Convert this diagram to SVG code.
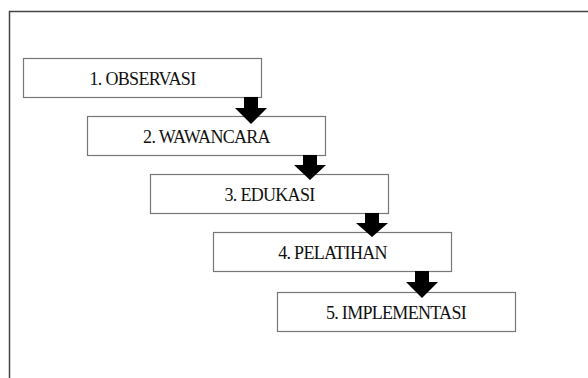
<svg xmlns="http://www.w3.org/2000/svg" width="588" height="378" viewBox="0 0 588 378">
<defs>
<style>
.box{fill:#fff;stroke:#777;stroke-width:1.2}
.lbl{font-family:"Liberation Serif","Times New Roman",serif;font-size:18px;fill:#111;text-anchor:middle;letter-spacing:-0.7px}
.arr{fill:#000}
.frame{fill:none;stroke:#444;stroke-width:1.5}
</style>
</defs>
<rect width="588" height="378" fill="#fff"/>
<path class="frame" d="M9.5,390 V11.5 H600"/>
<g id="node1"><rect class="box" x="23.5" y="58.5" width="238" height="39"/><text class="lbl" x="142.5" y="84.5">1. OBSERVASI</text></g>
<g id="node2"><rect class="box" x="87.5" y="116.5" width="238" height="39"/><text class="lbl" x="206.5" y="142.5">2. WAWANCARA</text></g>
<g id="node3"><rect class="box" x="150.5" y="174.5" width="238" height="39"/><text class="lbl" x="269.5" y="200.5">3. EDUKASI</text></g>
<g id="node4"><rect class="box" x="213.5" y="232.5" width="238" height="39"/><text class="lbl" x="332.5" y="258.5">4. PELATIHAN</text></g>
<g id="node5"><rect class="box" x="277.5" y="292.5" width="238" height="39"/><text class="lbl" x="396" y="318.5">5. IMPLEMENTASI</text></g>
<g id="connectors">
<polygon class="arr" points="244,97 258,97 258,108 267,108 251,124 235,108 244,108"/>
<polygon class="arr" points="303,155 317,155 317,165 326,165 310,180 294,165 303,165"/>
<polygon class="arr" points="365,213 379,213 379,223 388,223 372,237 356,223 365,223"/>
<polygon class="arr" points="415,271 429,271 429,282 438,282 422,298 406,282 415,282"/>
</g>
</svg>
